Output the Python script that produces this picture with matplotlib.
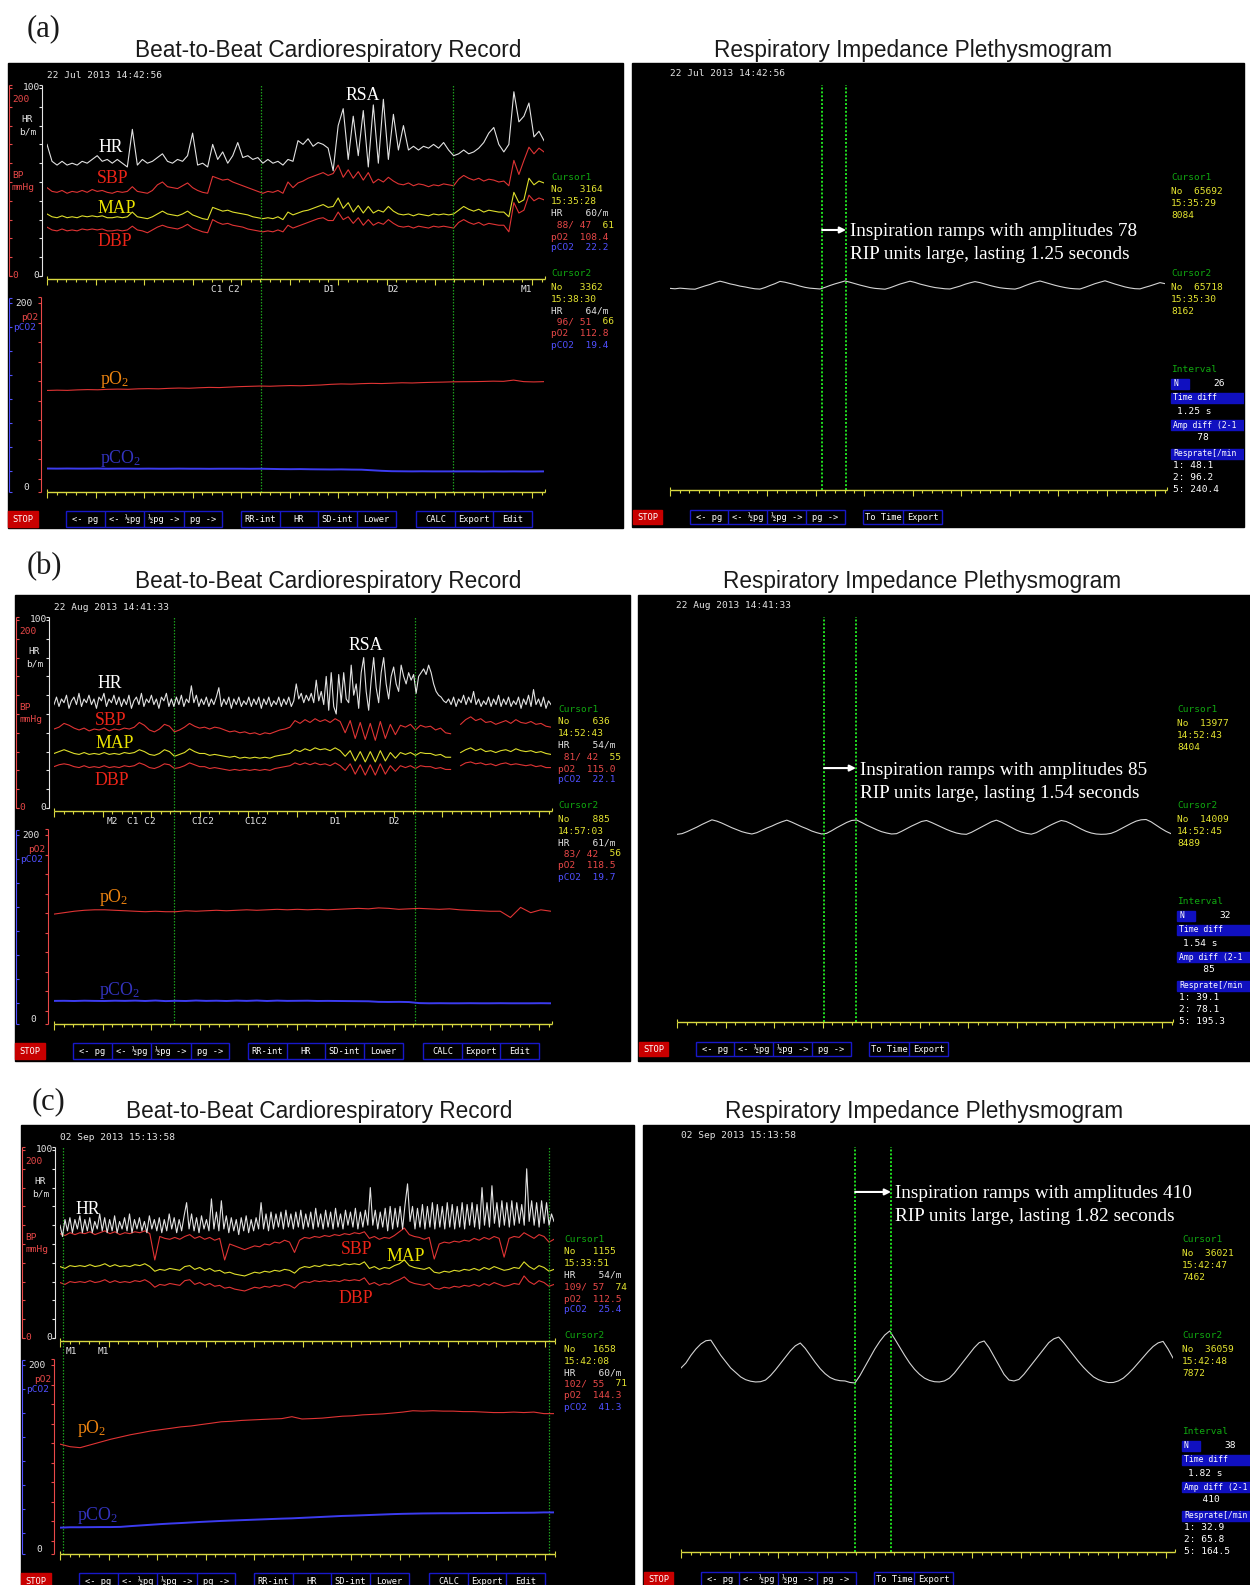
import numpy as np
import matplotlib.pyplot as plt
from matplotlib.patches import Rectangle

# ---------------- beat-to-beat records (one value per plotted beat) ----------------
hr_a = [70, 61, 59, 61, 59, 60, 59, 61, 60, 62,
        64, 61, 62, 60, 62, 60, 58, 78, 59, 62,
        60, 61, 63, 65, 61, 60, 62, 61, 64, 76,
        59, 60, 58, 70, 62, 66, 60, 64, 71, 63,
        64, 62, 63, 60, 62, 60, 61, 59, 62, 61,
        72, 70, 73, 69, 71, 70, 68, 56, 80, 89,
        62, 85, 64, 88, 58, 91, 60, 94, 62, 86,
        67, 80, 67, 69, 67, 69, 68, 70, 68, 71,
        67, 64, 65, 67, 65, 66, 68, 71, 76, 79,
        70, 66, 70, 98, 82, 85, 92, 74, 77, 72]
sbp_a = [94, 90, 89, 91, 88, 90, 89, 91, 89, 92,
         90, 91, 89, 88, 90, 89, 90, 95, 90, 89,
         88, 91, 97, 100, 95, 94, 93, 96, 99, 94,
         91, 89, 88, 106, 104, 102, 103, 100, 98, 96,
         94, 92, 90, 88, 90, 89, 91, 88, 100, 94,
         99, 101, 104, 106, 108, 110, 107, 109, 118, 105,
         113, 104, 111, 102, 110, 99, 103, 100, 105, 101,
         98, 97, 99, 96, 98, 97, 95, 97, 96, 98,
         97, 96, 103, 107, 104, 102, 104, 101, 103, 102,
         100, 101, 96, 123, 108, 123, 137, 130, 136, 132]
map_a = [66, 63, 62, 64, 62, 63, 62, 64, 63, 64,
         63, 64, 62, 62, 63, 62, 63, 68, 63, 62,
         61, 63, 66, 69, 66, 65, 64, 66, 69, 65,
         63, 61, 60, 73, 71, 69, 70, 68, 67, 66,
         65, 63, 62, 61, 62, 61, 63, 60, 68, 65,
         67, 69, 70, 72, 74, 76, 73, 74, 83, 72,
         78, 68, 75, 67, 74, 67, 70, 68, 74, 69,
         66, 65, 66, 64, 66, 65, 64, 66, 65, 66,
         65, 66, 70, 74, 71, 69, 71, 68, 70, 69,
         68, 68, 63, 89, 78, 81, 104, 97, 101, 99]
dbp_a = [52, 49, 48, 50, 48, 49, 48, 50, 49, 50,
         49, 50, 48, 48, 49, 48, 49, 53, 49, 48,
         46, 49, 52, 54, 52, 51, 50, 52, 55, 51,
         49, 47, 46, 60, 57, 55, 56, 54, 53, 52,
         50, 49, 48, 47, 48, 47, 49, 47, 54, 51,
         53, 55, 57, 59, 61, 62, 59, 59, 68, 60,
         63, 56, 62, 54, 60, 54, 57, 55, 60, 56,
         53, 52, 53, 51, 53, 52, 51, 53, 52, 53,
         52, 51, 57, 60, 57, 55, 57, 54, 56, 55,
         54, 54, 47, 78, 67, 70, 86, 80, 83, 81]
po2_a = [103.8, 104.1, 103.9, 104.4, 104.7, 104.5, 105.0, 105.2, 105.0, 105.5,
         105.7, 105.5, 106.0, 106.3, 106.1, 106.6, 107.0, 106.8, 107.3, 107.8,
         108.1, 108.4, 108.2, 108.6, 108.9, 108.7, 109.1, 109.5, 110.2, 110.6,
         110.4, 110.9, 111.2, 111.0, 111.4, 111.8, 111.6, 112.0, 112.3, 112.5,
         112.8, 112.9, 113.0, 113.2, 113.5, 113.3, 114.6, 113.0, 112.7, 113.0]
pco2_a = [22.4, 22.3, 22.4, 22.3, 22.3, 22.4, 22.2, 22.3, 22.3, 22.2,
          22.3, 22.2, 22.2, 22.3, 22.2, 22.2, 22.1, 22.2, 22.2, 22.2,
          22.1, 22.2, 22.0, 21.8, 21.7, 21.8, 21.6, 21.5, 21.4, 21.5,
          21.3, 21.2, 20.6, 20.0, 19.6, 19.5, 19.4, 19.5, 19.4, 19.4,
          19.4, 19.4, 19.4, 19.3, 19.4, 19.3, 19.4, 19.3, 19.3, 19.4]

hr_b = [55, 59, 54, 58, 56, 60, 53, 57, 59, 55, 61, 54, 58, 56, 60, 55, 58, 53, 59, 57,
        61, 54, 58, 56, 60, 55, 59, 54, 58, 55, 60, 53, 57, 59, 55, 61, 54, 58, 56, 60,
        55, 58, 53, 59, 57, 61, 54, 58, 54, 59, 55, 60, 54, 58, 56, 65, 56, 60, 54, 58,
        55, 59, 54, 58, 55, 59, 64, 54, 58, 55, 59, 53, 58, 55, 59, 54, 57, 55, 59, 54,
        58, 55, 59, 53, 58, 55, 59, 54, 57, 55, 59, 54, 58, 55, 59, 54, 57, 66, 58, 61,
        56, 60, 57, 61, 56, 68, 57, 62, 55, 70, 52, 72, 54, 50, 71, 56, 72, 58, 56, 76,
        60, 66, 53, 72, 80, 62, 52, 68, 80, 64, 56, 72, 80, 66, 58, 70, 75, 66, 62, 76,
        70, 66, 72, 68, 71, 61, 70, 72, 74, 71, 76, 72, 66, 62, 60, 59, 57, 56, 58, 55,
        59, 54, 58, 56, 60, 55, 59, 56, 62, 55, 58, 54, 57, 55, 59, 54, 58, 55, 60, 54,
        58, 55, 59, 54, 57, 55, 59, 53, 58, 55, 60, 54, 63, 55, 58, 54, 59, 53, 57, 55]
nan = float('nan')
sbp_b = [84, 86, 90, 88, 85, 83, 85, 82, 84, 83,
         85, 82, 84, 83, 85, 84, 86, 91, 88, 83,
         81, 84, 89, 87, 81, 83, 86, 90, 87, 85,
         86, 84, 86, 85, 83, 81, 82, 80, 81, 79,
         80, 78, 80, 79, 81, 83, 84, 86, 93, 90,
         94, 91, 95, 92, 94, 91, 95, 92, 80, 93,
         74, 91, 73, 90, 72, 92, 74, 89, 78, 88,
         86, 89, 83, 88, 86, 87, 83, 85, 80, 79,
         nan, 89, 94, 97, 93, 95, 91, 92, 89, 91,
         93, 90, 94, 91, 90, 92, 89, 90, 87, 86]
map_b = [58, 60, 62, 60, 58, 57, 59, 57, 58, 57,
         59, 57, 58, 57, 59, 58, 59, 62, 60, 57,
         56, 58, 62, 60, 55, 57, 59, 63, 60, 58,
         58, 56, 57, 56, 55, 54, 55, 53, 54, 53,
         54, 53, 54, 53, 55, 56, 57, 58, 62, 60,
         63, 61, 64, 62, 63, 61, 64, 61, 55, 61,
         50, 60, 49, 60, 49, 61, 50, 59, 53, 59,
         57, 59, 56, 59, 58, 58, 56, 57, 54, 54,
         nan, 59, 62, 64, 61, 63, 60, 61, 59, 61,
         62, 60, 63, 61, 60, 61, 59, 60, 58, 57]
dbp_b = [44, 46, 47, 46, 44, 43, 45, 43, 44, 43,
         45, 43, 44, 43, 45, 44, 45, 48, 46, 43,
         42, 44, 47, 46, 42, 43, 45, 48, 46, 44,
         44, 42, 43, 42, 41, 40, 41, 40, 41, 40,
         41, 40, 41, 40, 42, 43, 44, 45, 48, 46,
         48, 46, 48, 46, 47, 45, 48, 45, 40, 47,
         36, 46, 35, 46, 35, 47, 36, 45, 39, 45,
         43, 45, 42, 45, 44, 44, 42, 43, 41, 41,
         nan, 45, 48, 49, 47, 48, 46, 47, 45, 47,
         48, 46, 47, 46, 45, 46, 44, 45, 43, 43]
po2_b = [112.5, 114.0, 115.5, 116.5, 117.0, 117.0, 116.5, 116.0, 115.5, 115.0,
         115.5, 115.0, 115.0, 116.0, 115.5, 116.0, 116.5, 116.0, 116.5, 117.0,
         116.5, 117.0, 117.5, 117.0, 117.5, 117.0, 117.5, 117.0, 117.5, 118.0,
         118.5, 118.0, 119.0, 118.5, 117.5, 118.0, 118.5, 118.0, 117.5, 118.0,
         117.0, 116.5, 116.0, 115.5, 115.5, 109.0, 119.5, 114.0, 117.0, 115.5]
pco2_b = [22.0, 22.1, 21.9, 22.2, 22.0, 21.9, 22.2, 22.0, 22.3, 21.9,
          22.4, 21.8, 22.1, 21.9, 22.4, 22.0, 22.2, 21.9, 22.3, 22.0,
          22.4, 21.9, 22.3, 22.0, 22.1, 22.2, 21.9, 22.0, 21.9, 21.8,
          21.7, 21.6, 21.0, 20.9, 21.0, 20.8, 19.7, 19.5, 19.6, 19.5,
          19.5, 19.6, 19.5, 19.5, 19.6, 19.5, 19.5, 19.5, 19.6, 19.5]

hr_c = [60, 54, 63, 57, 64, 56, 63, 58, 65, 56, 63, 57, 64, 56, 62, 58, 66, 57, 64, 56,
        63, 57, 65, 56, 62, 58, 64, 57, 66, 56, 63, 58, 64, 57, 62, 56, 65, 58, 63, 57,
        64, 56, 63, 57, 66, 58, 64, 56, 63, 57, 65, 72, 58, 66, 57, 64, 56, 65, 58, 63,
        57, 74, 58, 67, 57, 73, 58, 65, 56, 64, 57, 63, 55, 64, 57, 65, 56, 63, 57, 64,
        58, 72, 58, 66, 57, 67, 58, 66, 59, 67, 58, 68, 59, 66, 58, 67, 59, 68, 58, 66,
        59, 67, 58, 69, 59, 66, 58, 68, 59, 67, 58, 69, 59, 66, 58, 68, 60, 67, 59, 69,
        58, 67, 59, 68, 60, 80, 60, 68, 58, 67, 59, 69, 57, 70, 58, 69, 59, 70, 58, 71,
        82, 62, 70, 58, 69, 59, 71, 58, 70, 59, 72, 58, 71, 59, 70, 58, 72, 59, 71, 58,
        70, 59, 72, 58, 71, 60, 72, 59, 71, 58, 80, 60, 72, 59, 81, 61, 72, 59, 73, 60,
        72, 59, 73, 60, 72, 61, 71, 60, 90, 62, 73, 60, 72, 59, 73, 61, 72, 60, 66, 62]
sbp_c = [111, 109, 112, 110, 112, 111, 113, 110, 112, 114,
         111, 113, 110, 112, 111, 113, 112, 114, 111, 83,
         108, 106, 105, 107, 105, 108, 110, 106, 108, 105,
         107, 104, 106, 83, 100, 98, 96, 94, 96, 98,
         97, 100, 99, 102, 101, 104, 102, 91, 104, 107,
         106, 108, 107, 109, 108, 110, 109, 111, 110, 112,
         111, 113, 106, 108, 105, 107, 106, 109, 113, 117,
         110, 108, 107, 105, 107, 84, 100, 102, 101, 103,
         102, 104, 103, 106, 104, 107, 105, 108, 106, 86,
         106, 108, 107, 112, 109, 106, 110, 108, 102, 105]
map_c = [76, 74, 77, 76, 77, 76, 78, 76, 77, 79,
         76, 78, 76, 77, 76, 78, 77, 79, 76, 71,
         73, 72, 74, 73, 72, 76, 77, 73, 75, 72,
         74, 71, 72, 69, 70, 68, 67, 66, 68, 70,
         69, 71, 70, 72, 71, 73, 72, 69, 74, 76,
         75, 77, 76, 78, 77, 78, 77, 79, 78, 79,
         78, 81, 74, 76, 73, 75, 74, 77, 79, 83,
         77, 75, 74, 73, 75, 70, 69, 71, 70, 72,
         71, 73, 72, 74, 72, 75, 73, 76, 74, 72,
         73, 75, 74, 81, 76, 73, 77, 75, 71, 73]
dbp_c = [59, 57, 60, 59, 60, 59, 61, 59, 60, 62,
         59, 61, 59, 60, 59, 61, 60, 62, 59, 54,
         57, 56, 58, 57, 56, 61, 62, 57, 59, 56,
         58, 55, 56, 53, 54, 52, 51, 50, 52, 54,
         53, 55, 54, 56, 55, 57, 56, 53, 58, 60,
         59, 61, 60, 61, 60, 61, 60, 62, 61, 62,
         61, 64, 57, 59, 56, 58, 57, 60, 62, 65,
         60, 58, 57, 56, 58, 53, 52, 54, 53, 55,
         54, 56, 55, 57, 55, 58, 56, 59, 57, 55,
         56, 58, 57, 66, 60, 57, 61, 59, 55, 57]
po2_c = [112.5, 109.8, 108.8, 111.7, 114.6, 117.5, 119.9, 122.3, 124.2, 126.2,
         127.6, 129.0, 130.5, 131.4, 132.9, 134.3, 135.8, 136.3, 137.2, 137.7,
         138.2, 138.7, 139.1, 141.1, 138.7, 139.1, 139.6, 140.6, 141.6, 142.0,
         143.0, 143.5, 144.0, 144.9, 145.9, 147.3, 146.9, 147.3, 146.9, 146.9,
         146.4, 146.4, 145.9, 145.4, 145.4, 145.9, 145.4, 145.9, 144.3, 144.3]
pco2_c = [25.4, 25.8, 25.8, 25.9, 26.0, 26.0, 26.2, 27.0, 27.7, 28.4,
          29.1, 29.7, 30.2, 30.8, 31.4, 31.9, 32.4, 32.8, 33.2, 33.6,
          34.0, 34.4, 34.8, 35.1, 35.6, 36.1, 36.6, 37.1, 37.6, 37.9,
          38.3, 38.7, 39.1, 39.5, 39.8, 40.0, 40.2, 40.3, 40.4, 40.4,
          40.5, 40.6, 40.6, 40.7, 40.8, 40.9, 40.9, 41.0, 41.3, 41.3]

# respiratory impedance plethysmogram samples (RIP units)
rip_a = [8090, 8086, 8092, 8088, 8084, 8082, 8098, 8114, 8128, 8146,
         8160, 8148, 8134, 8124, 8112, 8104, 8094, 8086, 8083, 8098,
         8118, 8136, 8158, 8150, 8138, 8126, 8112, 8100, 8092, 8088,
         8084, 8100, 8118, 8134, 8148, 8162, 8150, 8136, 8122, 8110,
         8098, 8090, 8086, 8082, 8096, 8114, 8132, 8146, 8160, 8148,
         8132, 8120, 8108, 8098, 8092, 8086, 8084, 8098, 8112, 8130,
         8144, 8156, 8146, 8132, 8118, 8106, 8096, 8090, 8086, 8083,
         8096, 8116, 8134, 8150, 8162, 8148, 8134, 8120, 8108, 8098,
         8090, 8086, 8084, 8100, 8118, 8136, 8150, 8164, 8148, 8132,
         8118, 8104, 8094, 8087, 8085, 8100, 8114, 8130, 8146, 8136]
rip_b = [8402, 8406, 8418, 8432, 8446, 8462, 8476, 8490, 8482, 8470,
         8456, 8442, 8430, 8418, 8410, 8404, 8412, 8426, 8440, 8452,
         8466, 8478, 8488, 8476, 8462, 8448, 8436, 8422, 8412, 8404,
         8408, 8424, 8442, 8458, 8474, 8486, 8489, 8474, 8458, 8444,
         8430, 8418, 8410, 8404, 8406, 8420, 8436, 8452, 8466, 8480,
         8486, 8474, 8460, 8446, 8432, 8420, 8410, 8404, 8402, 8414,
         8430, 8446, 8462, 8478, 8488, 8476, 8460, 8444, 8428, 8416,
         8408, 8403, 8412, 8428, 8444, 8460, 8474, 8486, 8480, 8466,
         8450, 8434, 8420, 8410, 8404, 8402, 8403, 8408, 8420, 8436,
         8452, 8468, 8482, 8490, 8492, 8478, 8458, 8438, 8420, 8406]
rip_c = [7580, 7620, 7680, 7730, 7770, 7795, 7800, 7740, 7680, 7630,
         7580, 7545, 7510, 7488, 7476, 7470, 7472, 7485, 7520, 7565,
         7615, 7665, 7715, 7755, 7777, 7735, 7680, 7625, 7575, 7535,
         7505, 7488, 7480, 7478, 7466, 7462, 7520, 7590, 7660, 7730,
         7790, 7840, 7872, 7810, 7745, 7680, 7620, 7570, 7530, 7500,
         7482, 7472, 7470, 7478, 7500, 7540, 7590, 7640, 7690, 7740,
         7780, 7793, 7740, 7670, 7600, 7530, 7485, 7478, 7490, 7530,
         7580, 7630, 7680, 7730, 7780, 7810, 7824, 7780, 7730, 7680,
         7630, 7585, 7545, 7510, 7488, 7474, 7465, 7466, 7478, 7500,
         7535, 7575, 7620, 7665, 7710, 7750, 7778, 7790, 7730, 7659]

# screen readouts
dates = ['22 Jul 2013 14:42:56', '22 Aug 2013 14:41:33', '02 Sep 2013 15:13:58']
beat_span = [(2943, 3456), (512, 1025), (1152, 1663)]
beat_cursor = [(3164, 3362), (636, 885), (1155, 1658)]
beat_clock = [('15:35:28', '15:38:30'), ('14:52:43', '14:57:03'), ('15:33:51', '15:42:08')]
cur_hr = [(60, 64), (54, 61), (54, 60)]
cur_bp = [((88, 47, 61), (96, 51, 66)), ((81, 42, 55), (83, 42, 56)), ((109, 57, 74), (102, 55, 71))]
cur_po2 = [(108.4, 112.8), (115.0, 118.5), (112.5, 144.3)]
cur_pco2 = [(22.2, 19.4), (22.1, 19.7), (25.4, 41.3)]
events = [[('C1 C2', 211), ('D1', 323), ('D2', 387), ('M1', 521)],
          [('M2', 107), ('C1 C2', 127), ('C1C2', 191), ('C1C2', 244), ('D1', 329), ('D2', 388)],
          [('M1', 66), ('M1', 98)]]

rip_span = [(65527, 66064), (13830, 14324), (35837, 36357)]
rip_cursor = [(65692, 65718), (13977, 14009), (36021, 36059)]
rip_clock = [('15:35:29', '15:35:30'), ('14:52:43', '14:52:45'), ('15:42:47', '15:42:48')]
rip_value = [(8084, 8162), (8404, 8489), (7462, 7872)]
rip_n = [26, 32, 38]
rip_dt = [1.25, 1.54, 1.82]
rip_amp = [78, 85, 410]
resp_rate = [(48.1, 96.2, 240.4), (39.1, 78.1, 195.3), (32.9, 65.8, 164.5)]

HR = [hr_a, hr_b, hr_c]
SBP = [sbp_a, sbp_b, sbp_c]
MAP = [map_a, map_b, map_c]
DBP = [dbp_a, dbp_b, dbp_c]
PO2 = [po2_a, po2_b, po2_c]
PCO2 = [pco2_a, pco2_b, pco2_c]
RIP = [rip_a, rip_b, rip_c]

# ---------------- layout (figure pixels, origin top-left) ----------------
W, H = 1250, 1585
LEFT_BOX = [(8, 63, 623, 528), (15, 595, 630, 1061), (21, 1125, 634, 1585)]
RIGHT_BOX = [(632, 63, 1244, 527), (638, 595, 1250, 1061), (643, 1125, 1250, 1585)]
TRACE_X = [(47, 544), (54, 551), (60, 554)]
RIP_X = [(670, 1165), (677, 1171), (681, 1173)]
RIP_YLIM = [(6125, 10072), (7262, 9722), (6129, 9323)]
ARROW_Y = [0.642, 0.627, 0.889]
LETTERS = [('(a)', 27, 36), ('(b)', 27, 574), ('(c)', 32, 1109)]
TITLES = [(328, 913, 57), (328, 922, 588), (319, 924, 1118)]
NAME_POS = [
    [('HR', 98, 152), ('SBP', 97, 183), ('MAP', 97, 213), ('DBP', 97, 246), ('RSA', 345, 100),
     ('pO2', 100, 384), ('pCO2', 100, 463)],
    [('HR', 97, 688), ('SBP', 95, 725), ('MAP', 95, 748), ('DBP', 94, 785), ('RSA', 348, 650),
     ('pO2', 99, 902), ('pCO2', 99, 995)],
    [('HR', 75, 1214), ('SBP', 341, 1254), ('MAP', 386, 1261), ('DBP', 338, 1303),
     ('pO2', 77, 1433), ('pCO2', 77, 1520)],
]

MONO, SERIF, SANS = 'DejaVu Sans Mono', 'Liberation Serif', 'Liberation Sans'
plt.rcParams['mathtext.fontset'] = 'custom'
plt.rcParams['mathtext.rm'] = SERIF
plt.rcParams['mathtext.it'] = SERIF + ':italic'
FS = 6.8
ADV = 0.602 * FS * 100 / 72

C_TXT = '#e4e4e4'
C_RED = '#e84848'
C_YEL = '#e4e430'
C_BLU = '#5050ff'
C_GRN = '#10a810'
C_AX = '#d8d840'
C_BTN = '#1818c8'
TR_WHT, TR_RED, TR_YEL, TR_BLU = '#e2e2e2', '#e03434', '#dede2c', '#3c3cf0'
NAME_COL = {'HR': 'white', 'RSA': 'white', 'SBP': '#ec2418', 'DBP': '#ec2418',
            'MAP': '#ece400', 'pO2': '#ee8410', 'pCO2': '#3434c0'}
NAME_TXT = {'pO2': r'pO$_{\mathrm{2}}$', 'pCO2': r'pCO$_{\mathrm{2}}$'}

fig = plt.figure(figsize=(W / 100, H / 100), dpi=100)
fig.patch.set_facecolor('white')


def px_axes(x0, y0, x1, y1, z):
    ax = fig.add_axes([x0 / W, 1 - y1 / H, (x1 - x0) / W, (y1 - y0) / H], zorder=z)
    ax.set_axis_off()
    return ax


bg = px_axes(0, 0, W, H, 0)
bg.set_xlim(0, W)
bg.set_ylim(H, 0)
fg = px_axes(0, 0, W, H, 3)
fg.set_xlim(0, W)
fg.set_ylim(H, 0)


def mono(x, y, s, c, size=FS, ha='left', clip=None):
    t = fg.text(x, y, s, color=c, fontsize=size, family=MONO, ha=ha, va='center')
    if clip is not None:
        t.set_clip_path(clip)
    return t


def segments(x, y, parts):
    n = 0
    for s, c in parts:
        mono(x + n * ADV, y, s, c)
        n += len(s)


def bracket(x, y0, y1, color, d, first, step):
    fg.vlines(x, y0, y1, color=color, lw=0.8)
    fg.hlines([y0, y1], x, x + 3 * d, color=color, lw=0.8)
    fg.hlines(np.arange(first, y1 + 0.5, step), x, x + 3 * d, color=color, lw=0.8)


def yellow_axis(x0, x1, y):
    fg.hlines(y, x0, x1, color=C_AX, lw=1)
    k = np.arange(int((x1 - x0) / 9.7) + 1)
    xs = x0 + 9.7 * k
    fg.vlines(xs[k % 5 != 0], y, y + 3, color=C_AX, lw=0.8)
    fg.vlines(xs[k % 5 == 0], y, y + 6, color=C_AX, lw=0.8)
    fg.vlines([x0, x1], y - 3, y, color=C_AX, lw=0.8)


def buttons(ox, oy, stop, groups, yt, yb):
    fg.add_patch(Rectangle((ox + stop[0], oy + yt), stop[1] - stop[0], yb - yt, color='#c80000'))
    mono(ox + sum(stop) / 2, oy + (yt + yb) / 2, 'STOP', 'white', size=6.3, ha='center')
    for edges, labels in groups:
        fg.add_patch(Rectangle((ox + edges[0], oy + yt), edges[-1] - edges[0], yb - yt,
                               fill=False, ec=C_BTN, lw=1))
        fg.vlines([ox + e for e in edges[1:-1]], oy + yt, oy + yb, color=C_BTN, lw=1)
        for a, b, lab in zip(edges[:-1], edges[1:], labels):
            mono(ox + (a + b) / 2, oy + (yt + yb) / 2, lab, 'white', size=6.3, ha='center')


for p in range(3):
    # ---------- headings ----------
    lab, lx, ly = LETTERS[p]
    fg.text(lx, ly, lab, family=SERIF, fontsize=22, color='#1a1a1a', va='baseline')
    tl, tr, ty = TITLES[p]
    fg.text(tl, ty, 'Beat-to-Beat Cardiorespiratory Record', family=SANS, fontsize=16.3,
            color='#1a1a1a', ha='center', va='baseline')
    fg.text(tr, ty, 'Respiratory Impedance Plethysmogram', family=SANS, fontsize=16.3,
            color='#1a1a1a', ha='center', va='baseline')

    # ---------- beat-to-beat screen ----------
    x0, y0, x1, y1 = LEFT_BOX[p]
    bg.add_patch(Rectangle((x0, y0), x1 - x0, y1 - y0, color='black'))
    mono(x0 + 39, y0 + 12, dates[p], C_TXT)

    bracket(x0 + 1, y0 + 22, y0 + 213, C_RED, 1, y0 + 25, 18.8)
    bracket(x0 + 34, y0 + 22, y0 + 213, C_TXT, -1, y0 + 25, 18.8)
    bracket(x0 + 1, y0 + 235, y0 + 429, C_BLU, 1, y0 + 240, 24)
    bracket(x0 + 33, y0 + 234, y0 + 429, C_RED, -1, y0 + 240, 19.5)
    mono(x0 + 32, y0 + 25, '100', C_TXT, ha='right')
    mono(x0 + 4, y0 + 36, '200', C_RED)
    mono(x0 + 13, y0 + 57, 'HR', C_TXT)
    mono(x0 + 11, y0 + 69, 'b/m', C_TXT)
    mono(x0 + 4, y0 + 113, 'BP', C_RED)
    mono(x0 + 4, y0 + 124, 'mmHg', C_RED)
    mono(x0 + 4, y0 + 212, '0', C_RED)
    mono(x0 + 25, y0 + 212, '0', C_TXT)
    mono(x0 + 25, y0 + 240, '200', C_TXT, ha='right')
    mono(x0 + 30, y0 + 254, 'pO2', C_RED, ha='right')
    mono(x0 + 28, y0 + 265, 'pCO2', C_BLU, ha='right')
    mono(x0 + 15, y0 + 425, '0', C_TXT)

    tx0, tx1 = TRACE_X[p]
    yellow_axis(tx0, tx1 + 1, y0 + 216)
    yellow_axis(tx0, tx1 + 1, y0 + 429)
    for s, ex in events[p]:
        mono(ex, y0 + 227, s, C_TXT)

    b0, b1 = beat_span[p]
    ax_bp = px_axes(tx0, y0 + 25, tx1, y0 + 213, 1)
    ax_bp.set_xlim(b0, b1)
    ax_bp.set_ylim(0, 200)
    ax_hr = px_axes(tx0, y0 + 25, tx1, y0 + 213, 1)
    ax_hr.set_xlim(b0, b1)
    ax_hr.set_ylim(0, 100)
    ax_gas = px_axes(tx0, y0 + 240, tx1, y0 + 427, 1)
    ax_gas.set_xlim(b0, b1)
    ax_gas.set_ylim(0, 195)

    beats = np.linspace(b0, b1, len(SBP[p]))
    ax_bp.plot(beats, DBP[p], color=TR_RED, lw=0.8)
    ax_bp.plot(beats, MAP[p], color=TR_YEL, lw=0.8)
    ax_bp.plot(beats, SBP[p], color=TR_RED, lw=0.8)
    ax_hr.plot(np.linspace(b0, b1, len(HR[p])), HR[p], color=TR_WHT, lw=0.8)
    gbeats = np.linspace(b0, b1, len(PO2[p]))
    ax_gas.plot(gbeats, PO2[p], color=TR_RED, lw=0.8)
    ax_gas.plot(gbeats, PCO2[p], color=TR_BLU, lw=1.4)
    for c in beat_cursor[p]:
        ax_bp.axvline(c, ymin=-(429 - 213) / 188, ymax=(213 - 22) / 188, color='#1c9c1c',
                      ls=(0, (1.2, 1.2)), lw=0.9, clip_on=False)

    for name, nx, ny in NAME_POS[p]:
        fg.text(nx, ny, NAME_TXT.get(name, name), family=SERIF, fontsize=12.8,
                color=NAME_COL[name], va='baseline')

    ix = x0 + 543
    for k, rows in enumerate([(114, 127, 139, 150, 162, 174, 185),
                              (210, 225, 236, 248, 259, 271, 282)]):
        sb, db, mb = cur_bp[p][k]
        mono(ix, y0 + rows[0], f'Cursor{k + 1}', C_GRN)
        mono(ix, y0 + rows[1], f'No{beat_cursor[p][k]:>7}', C_YEL)
        mono(ix, y0 + rows[2], beat_clock[p][k], C_YEL)
        mono(ix, y0 + rows[3], f'HR{cur_hr[p][k]:>6}/m', C_TXT)
        segments(ix, y0 + rows[4], [(f'{sb:>3}/{db:>3}', C_RED), (f'{mb:>4}', C_YEL)])
        mono(ix, y0 + rows[5], f'pO2{cur_po2[p][k]:>7.1f}', C_RED)
        mono(ix, y0 + rows[6], f'pCO2{cur_pco2[p][k]:>6.1f}', C_BLU)

    buttons(x0, y0, (0, 30),
            [((58, 97, 136, 176, 214), ('<- pg', '<- ½pg', '½pg ->', 'pg ->')),
             ((233, 272, 310, 349, 388), ('RR-int', 'HR', 'SD-int', 'Lower')),
             ((408, 447, 485, 524), ('CALC', 'Export', 'Edit'))], 448, 464)

    # ---------- RIP screen ----------
    x0, y0, x1, y1 = RIGHT_BOX[p]
    bg.add_patch(Rectangle((x0, y0), x1 - x0, y1 - y0, color='black'))
    clip = Rectangle((x0, y0), x1 - x0, y1 - y0, transform=fg.transData)
    mono(x0 + 38, y0 + 11, dates[p], C_TXT)
    rx0, rx1 = RIP_X[p]
    yellow_axis(rx0, rx1 + 2, y0 + 427)

    ax_rip = px_axes(rx0, y0 + 22, rx1, y0 + 427, 1)
    ax_rip.set_xlim(*rip_span[p])
    ax_rip.set_ylim(*RIP_YLIM[p])
    samples = np.linspace(*rip_span[p], len(RIP[p]))
    ax_rip.plot(samples, RIP[p], color='#d4d4d4', lw=0.8)
    c1, c2 = rip_cursor[p]
    for c in (c1, c2):
        ax_rip.axvline(c, color='#20e020', ls=(0, (1, 1)), lw=1.4)
    ya = ARROW_Y[p]
    ax_rip.annotate('', xy=(c2, ya), xytext=(c1, ya), xycoords=('data', 'axes fraction'),
                    arrowprops=dict(arrowstyle='-|>', color='white', lw=1.5,
                                    mutation_scale=9, shrinkA=0, shrinkB=0))
    for dy, s in ((-6.5, f'Inspiration ramps with amplitudes {rip_amp[p]}'),
                  (-29.5, f'RIP units large, lasting {rip_dt[p]:.2f} seconds')):
        ax_rip.annotate(s, xy=(c2, ya), xycoords=('data', 'axes fraction'), xytext=(4, dy),
                        textcoords='offset pixels', va='baseline', ha='left',
                        family=SERIF, fontsize=13.9, color='white')

    ix = x0 + 539
    for k, rows in enumerate([(114, 129, 140, 152), (210, 225, 237, 248)]):
        mono(ix, y0 + rows[0], f'Cursor{k + 1}', C_GRN)
        mono(ix, y0 + rows[1], f'No{rip_cursor[p][k]:>7}', C_YEL)
        mono(ix, y0 + rows[2], rip_clock[p][k], C_YEL)
        mono(ix, y0 + rows[3], f'{rip_value[p][k]}', C_YEL)

    mono(ix, y0 + 307, 'Interval', C_GRN)
    for yy, w, s in ((321, 18, 'N'), (335, 80, 'Time diff'), (362, 80, 'Amp diff (2-1'),
                     (391, 80, 'Resprate[/min')):
        box = Rectangle((ix, y0 + yy - 5), w, 10, color='#1010c0')
        fg.add_patch(box)
        box.set_clip_path(clip)
        mono(ix + 2, y0 + yy, s, 'white', size=5.9)
    mono(ix + 54, y0 + 321, f'{rip_n[p]}', 'white', ha='right')
    mono(ix + 6, y0 + 348, f'{rip_dt[p]:.2f} s', 'white')
    mono(ix + 9, y0 + 374, f'{rip_amp[p]:>5}', 'white')
    for yy, (lag, rate) in zip((403, 415, 427), zip((1, 2, 5), resp_rate[p])):
        mono(ix + 2, y0 + yy, f'{lag}: {rate}', 'white')

    buttons(x0, y0, (1, 30),
            [((58, 96, 135, 174, 213), ('<- pg', '<- ½pg', '½pg ->', 'pg ->')),
             ((231, 271, 310), ('To Time', 'Export'))], 447, 461)

fig.savefig('out.png', dpi=100, facecolor='white')
